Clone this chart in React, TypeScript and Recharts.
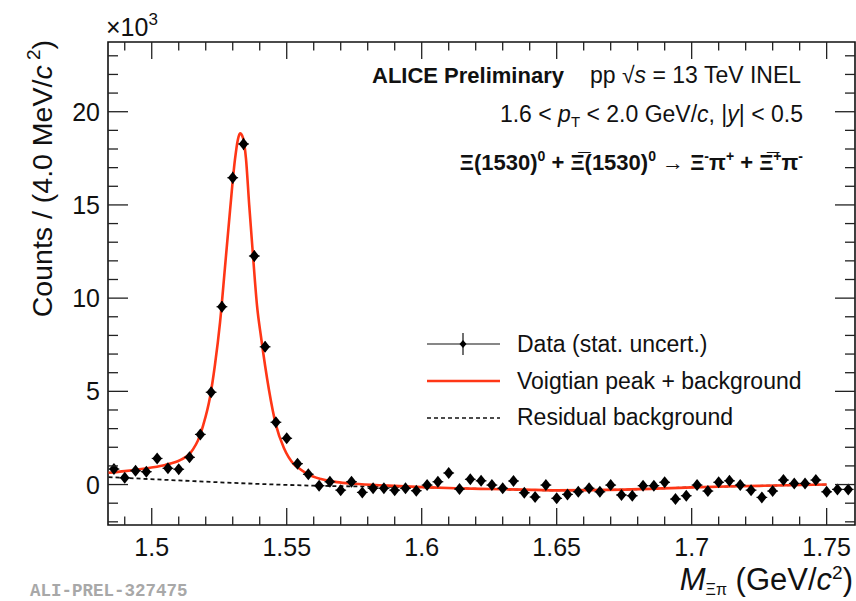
import React from "react";
import { ComposedChart, XAxis, YAxis, Scatter, Line, ErrorBar, ReferenceArea } from "recharts";

// invariant mass bins (GeV/c^2), 4 MeV wide
const binCenters = [
  1.486, 1.49, 1.494, 1.498, 1.502, 1.506, 1.51, 1.514, 1.518, 1.522, 1.526, 1.53, 1.534, 1.538,
  1.542, 1.546, 1.55, 1.554, 1.558, 1.562, 1.566, 1.57, 1.574, 1.578, 1.582, 1.586, 1.59, 1.594,
  1.598, 1.602, 1.606, 1.61, 1.614, 1.618, 1.622, 1.626, 1.63, 1.634, 1.638, 1.642, 1.646, 1.65,
  1.654, 1.658, 1.662, 1.666, 1.67, 1.674, 1.678, 1.682, 1.686, 1.69, 1.694, 1.698, 1.702, 1.706,
  1.71, 1.714, 1.718, 1.722, 1.726, 1.73, 1.734, 1.738, 1.742, 1.746, 1.75, 1.754, 1.758,
];
// counts x10^3
const counts = [
  0.83, 0.36, 0.74, 0.69, 1.4, 0.87, 0.82, 1.46, 2.69, 4.95, 9.54, 16.46, 18.27, 12.26, 7.39,
  3.34, 2.48, 1.12, 0.55, -0.06, 0.15, -0.3, 0.15, -0.42, -0.2, -0.2, -0.3, -0.2, -0.33, -0.03,
  0.15, 0.62, -0.24, 0.28, 0.2, -0.03, -0.2, 0.19, -0.44, -0.67, -0.03, -0.74, -0.53, -0.39,
  -0.2, -0.39, -0.03, -0.56, -0.6, -0.06, -0.06, 0.12, -0.78, -0.6, -0.03, -0.35, 0.12, 0.2,
  -0.03, -0.3, -0.69, -0.35, 0.24, 0.06, 0.06, 0.24, -0.39, -0.26, -0.26,
];
const countErr = [
  0.2, 0.2, 0.2, 0.2, 0.21, 0.21, 0.22, 0.23, 0.25, 0.27, 0.3, 0.32, 0.33, 0.3, 0.28, 0.26,
  0.25, 0.24, 0.23, 0.23, 0.23, 0.23, 0.23, 0.23, 0.23, 0.23, 0.23, 0.23, 0.23, 0.23, 0.23,
  0.23, 0.23, 0.23, 0.23, 0.23, 0.23, 0.23, 0.23, 0.23, 0.23, 0.23, 0.23, 0.23, 0.23, 0.23,
  0.23, 0.23, 0.23, 0.23, 0.23, 0.23, 0.23, 0.23, 0.23, 0.23, 0.23, 0.23, 0.23, 0.23, 0.23,
  0.23, 0.23, 0.23, 0.23, 0.23, 0.23, 0.23, 0.23,
];
const halfBin = 0.002;

// fit curve
const fitMass = [
  1.484, 1.49, 1.4994, 1.505, 1.5105, 1.5142, 1.5179, 1.5191, 1.5216, 1.5234, 1.5253, 1.5271,
  1.529, 1.5308, 1.5319, 1.5327, 1.5338, 1.5349, 1.5361, 1.5375, 1.539, 1.5405, 1.5434, 1.546,
  1.549, 1.5526, 1.5545, 1.5579, 1.5627, 1.5686, 1.5749, 1.5875, 1.6, 1.6125, 1.625, 1.6375,
  1.65, 1.675, 1.7, 1.725, 1.75,
];
const fitCounts = [
  0.63, 0.72, 0.9, 1.05, 1.31, 1.67, 2.65, 3.2, 4.7, 6.4, 8.7, 11.6, 14.7, 17.4, 18.5, 18.84,
  18.6, 17.5, 15.0, 12.3, 9.6, 7.9, 5.1, 3.2, 1.95, 1.1, 0.87, 0.55, 0.3, 0.13, 0.04, -0.06,
  -0.14, -0.2, -0.24, -0.27, -0.31, -0.27, -0.15, -0.07, 0.0,
];
const bkgMass = [1.484, 1.51, 1.535, 1.56, 1.5875, 1.6, 1.625, 1.65, 1.675, 1.7, 1.725, 1.75];
const bkgCounts = [0.4, 0.22, 0.06, -0.06, -0.12, -0.15, -0.24, -0.31, -0.27, -0.15, -0.07, 0.0];

const xTicks = [
  1.49, 1.5, 1.51, 1.52, 1.53, 1.54, 1.55, 1.56, 1.57, 1.58, 1.59, 1.6, 1.61, 1.62, 1.63, 1.64,
  1.65, 1.66, 1.67, 1.68, 1.69, 1.7, 1.71, 1.72, 1.73, 1.74, 1.75,
];
const yTicks = [
  -2, -1, 0, 1, 2, 3, 4, 5, 6, 7, 8, 9, 10, 11, 12, 13, 14, 15, 16, 17, 18, 19, 20, 21, 22, 23,
];
const xDomain = [1.4838, 1.7605];
const yDomain = [-2.17, 23.74];

const FONT = "'Liberation Sans', Arial, Helvetica, sans-serif";
const W = 856;
const H = 601;
const TOP = 42;
const BOTTOM = 525;
const LEFT = 108;
const RIGHT = 855;
const RED = "#ff3616";

const points = binCenters.map((x, i) => ({ x, y: counts[i], ex: halfBin, ey: countErr[i] }));
const fit = fitMass.map((x, i) => ({ x, y: fitCounts[i] }));
const bkg = bkgMass.map((x, i) => ({ x, y: bkgCounts[i] }));

const XTick = (props: any) => {
  const { x, payload } = props;
  const v = payload.value;
  const major = Math.abs(v * 20 - Math.round(v * 20)) < 1e-6;
  const len = major ? 17 : 8.5;
  return (
    <g>
      <line x1={x} x2={x} y1={BOTTOM} y2={BOTTOM - len} stroke="#222" strokeWidth={1.3} />
      <line x1={x} x2={x} y1={TOP} y2={TOP + len} stroke="#222" strokeWidth={1.3} />
      {major && (
        <text x={x} y={BOTTOM + 31} textAnchor="middle" fontSize={25} fontFamily={FONT} fill="#111">
          {Number(v.toFixed(2)).toString()}
        </text>
      )}
    </g>
  );
};

const YTick = (props: any) => {
  const { y, payload } = props;
  const v = payload.value;
  const major = v % 5 === 0;
  const len = major ? 20 : 10;
  return (
    <g>
      <line x1={LEFT} x2={LEFT + len} y1={y} y2={y} stroke="#222" strokeWidth={1.3} />
      <line x1={RIGHT} x2={RIGHT - len} y1={y} y2={y} stroke="#222" strokeWidth={1.3} />
      {major && (
        <text x={100} y={y + 9} textAnchor="end" fontSize={25} fontFamily={FONT} fill="#111">
          {v}
        </text>
      )}
    </g>
  );
};

const Diamond = (props: any) => {
  const { cx, cy } = props;
  if (cx == null || cy == null) return null;
  return <polygon points={`${cx},${cy - 6} ${cx + 4.8},${cy} ${cx},${cy + 6} ${cx - 4.8},${cy}`} fill="#000" />;
};

const Overlay = () => (
  <svg
    width={W}
    height={H}
    style={{ position: "absolute", left: 0, top: 0, pointerEvents: "none" }}
    fontFamily={FONT}
  >
    <text x={106} y={36} fontSize={25} fill="#111">
      ×10<tspan dy={-11} fontSize={17}>3</tspan>
    </text>
    <text transform="translate(52,40) rotate(-90)" textAnchor="end" fontSize={28.5} fill="#111">
      {"Counts / (4.0 MeV/"}
      <tspan fontStyle="italic">c</tspan>
      <tspan dy={-12} fontSize={19}>{" 2"}</tspan>
      <tspan dy={12}>)</tspan>
    </text>
    <text x={853} y={590} textAnchor="end" fontSize={31} fill="#111">
      <tspan fontStyle="italic">M</tspan>
      <tspan dy={5} fontSize={16}>Ξπ</tspan>
      <tspan dy={-5}>{" (GeV/"}</tspan>
      <tspan fontStyle="italic">c</tspan>
      <tspan dy={-11} fontSize={19}>2</tspan>
      <tspan dy={11}>)</tspan>
    </text>
    <text x={30} y={596} fontSize={17.5} fontWeight="bold" fill="#a8a8a8" fontFamily="'Liberation Mono', monospace">
      ALI-PREL-327475
    </text>

    <text x={372} y={83} fontSize={22} fontWeight="bold" fill="#111">
      ALICE Preliminary
    </text>
    <text x={590} y={83} fontSize={23} fill="#111">
      {"pp √"}
      <tspan fontStyle="italic">s</tspan>
      {" = 13 TeV INEL"}
    </text>
    <text x={803} y={122} textAnchor="end" fontSize={23} fill="#111">
      {"1.6 < "}
      <tspan fontStyle="italic">p</tspan>
      <tspan dy={5} fontSize={15}>T</tspan>
      <tspan dy={-5}>{" < 2.0 GeV/"}</tspan>
      <tspan fontStyle="italic">c</tspan>
      {", |"}
      <tspan fontStyle="italic">y</tspan>
      {"| < 0.5"}
    </text>
    <text x={803} y={170} textAnchor="end" fontSize={22} fontWeight="bold" fill="#111">
      {"Ξ(1530)"}
      <tspan dy={-9} fontSize={14}>0</tspan>
      <tspan dy={9}>{" + Ξ\u0305(1530)"}</tspan>
      <tspan dy={-9} fontSize={14}>0</tspan>
      <tspan dy={9} fontWeight="normal">{" → "}</tspan>
      {"Ξ"}
      <tspan dy={-9} fontSize={14}>-</tspan>
      <tspan dy={9}>π</tspan>
      <tspan dy={-9} fontSize={14}>+</tspan>
      <tspan dy={9}>{" + Ξ\u0305"}</tspan>
      <tspan dy={-9} fontSize={14}>+</tspan>
      <tspan dy={9}>π</tspan>
      <tspan dy={-9} fontSize={14}>-</tspan>
    </text>

    {/* legend */}
    <line x1={427} x2={500} y1={344} y2={344} stroke="#111" strokeWidth={1.2} />
    <line x1={463} x2={463} y1={333} y2={355} stroke="#111" strokeWidth={1.2} />
    <polygon points="463,340 466.5,344 463,348 459.5,344" fill="#000" />
    <text x={517} y={352} fontSize={23} fill="#111">Data (stat. uncert.)</text>
    <line x1={427} x2={500} y1={381} y2={381} stroke={RED} strokeWidth={2.5} />
    <text x={517} y={389} fontSize={23} fill="#111">Voigtian peak + background</text>
    <line x1={427} x2={500} y1={418} y2={418} stroke="#111" strokeWidth={1.6} strokeDasharray="4 3" />
    <text x={517} y={425} fontSize={23} fill="#111">Residual background</text>
  </svg>
);

export default function App() {
  return (
    <div style={{ position: "absolute", left: 0, top: 0, width: W, height: H, background: "#fff" }}>
      <ComposedChart width={W} height={H} margin={{ top: TOP, right: W - RIGHT, bottom: 0, left: 0 }}>
        <XAxis
          dataKey="x"
          type="number"
          domain={xDomain}
          allowDataOverflow
          ticks={xTicks}
          interval={0}
          tick={<XTick />}
          tickLine={false}
          axisLine={false}
          tickSize={0}
          tickMargin={0}
          height={H - BOTTOM}
        />
        <YAxis
          type="number"
          domain={yDomain}
          allowDataOverflow
          ticks={yTicks}
          interval={0}
          tick={<YTick />}
          tickLine={false}
          axisLine={false}
          tickSize={0}
          tickMargin={0}
          width={LEFT}
        />
        <ReferenceArea
          x1={xDomain[0]}
          x2={xDomain[1]}
          y1={yDomain[0]}
          y2={yDomain[1]}
          fill="none"
          fillOpacity={0}
          stroke="#111"
          strokeWidth={1.6}
          ifOverflow="visible"
        />
        <Line
          data={bkg}
          dataKey="y"
          type="monotoneX"
          stroke="#111"
          strokeWidth={1.8}
          strokeDasharray="4 3"
          dot={false}
          activeDot={false}
          isAnimationActive={false}
        />
        <Line
          data={fit}
          dataKey="y"
          type="monotoneX"
          stroke={RED}
          strokeWidth={2.6}
          dot={false}
          activeDot={false}
          isAnimationActive={false}
        />
        <Scatter data={points} dataKey="y" shape={<Diamond />} isAnimationActive={false}>
          <ErrorBar dataKey="ex" direction="x" width={0} stroke="#111" strokeWidth={1.2} />
          <ErrorBar dataKey="ey" direction="y" width={0} stroke="#111" strokeWidth={1.2} />
        </Scatter>
      </ComposedChart>
      <Overlay />
    </div>
  );
}
